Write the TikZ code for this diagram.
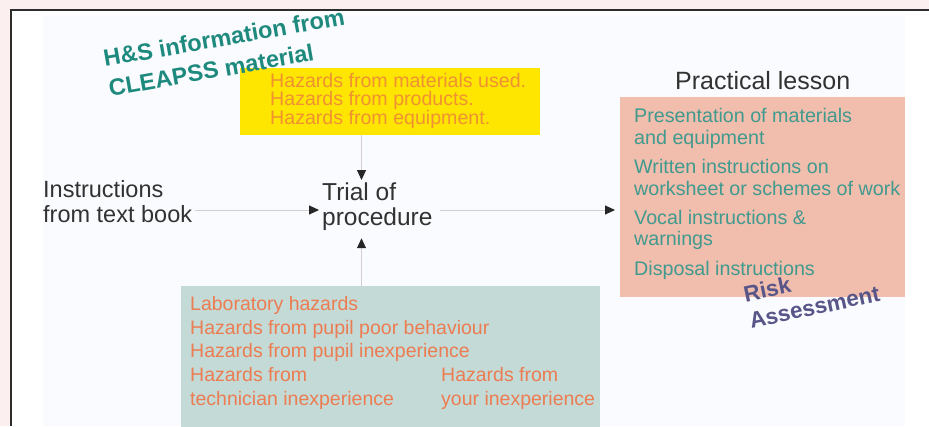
\documentclass[tikz,border=0pt]{standalone}
\usepackage{fontspec}
\setmainfont{Liberation Sans}
\usetikzlibrary{arrows.meta,positioning}
\definecolor{pagepink}{RGB}{252,239,239}
\definecolor{panel}{RGB}{250,251,254}
\definecolor{framegray}{RGB}{45,45,45}
\definecolor{cleapssyellow}{RGB}{255,230,0}
\definecolor{cleapsstext}{RGB}{240,145,50}
\definecolor{labteal}{RGB}{196,218,214}
\definecolor{labtext}{RGB}{236,124,82}
\definecolor{lessonpink}{RGB}{241,189,173}
\definecolor{lessontext}{RGB}{64,154,142}
\definecolor{hsteal}{RGB}{30,138,126}
\definecolor{riskpurple}{RGB}{88,86,136}
\definecolor{labelgray}{RGB}{50,50,50}
\definecolor{linkgray}{RGB}{212,206,206}
\tikzset{
  heading/.style = {text=labelgray, align=left, inner sep=3pt,
    font=\fontsize{23.5}{25}\selectfont},
  hazard box/.style = {anchor=north west, inner sep=0pt},
  list text/.style = {anchor=north west, align=left, inner sep=0pt},
  stamp/.style = {anchor=north west, align=left, inner sep=0pt,
    font=\bfseries\fontsize{23.5}{30}\selectfont},
  flow/.style = {linkgray, line width=1pt,
    -{Triangle[length=10pt,width=9pt,color=black!85]}}
}

\begin{document}
\begin{tikzpicture}[x=1pt,y=-1pt]
  \useasboundingbox (0,0) rectangle (929,426);
  \fill[pagepink] (0,0) rectangle (929,426);
  \fill[white] (10,9) rectangle (929,426);
  \fill[panel] (43,15) rectangle (905,426);
  \draw[framegray, line width=2pt] (10.5,426) -- (10.5,9.5) -- (929,9.5);

  % boxes
  \node[hazard box, fill=cleapssyellow, minimum width=300pt, minimum height=67pt] (cleapss) at (240,68) {};
  \node[hazard box, fill=labteal, minimum width=419pt, minimum height=145pt] (labhaz) at (181,286) {};
  \node[hazard box, fill=lessonpink, minimum width=285pt, minimum height=200pt] (lessonbox) at (620,97) {};

  % box texts
  \node[list text, text=cleapsstext, font=\fontsize{19.6}{18.5}\selectfont] (cleapsslist) at (270,73)
    {Hazards from materials used.\\Hazards from products.\\Hazards from equipment.};
  \node[list text, text=labtext, font=\fontsize{19.5}{23.7}\selectfont] (lablist) at (190,296)
    {Laboratory hazards\\Hazards from pupil poor behaviour\\Hazards from pupil inexperience\\Hazards from\\technician inexperience};
  \node[list text, text=labtext, font=\fontsize{19.5}{23.7}\selectfont] (yourlist) at (441,367.5)
    {Hazards from\\your inexperience};
  \node[list text, text=lessontext, font=\fontsize{19.7}{21.7}\selectfont] (lessonlist) at (634,108)
    {Presentation of materials\\and equipment\\[8pt]Written instructions on\\worksheet or schemes of work\\[7pt]Vocal instructions \&\\warnings\\[8pt]Disposal instructions};

  % plain labels
  \node[heading, anchor=north west] (book) at (40,177) {Instructions\\from text book};
  \node[heading, anchor=north west, font=\fontsize{24.5}{25}\selectfont] (trial) at (319,180) {Trial of\\procedure};
  \node[heading, font=\fontsize{25}{26}\selectfont, above=4.5pt of lessonbox] (lesson) {Practical lesson};

  % slanted notes
  \node[stamp, text=hsteal, rotate=10] (hsnote) at (102,50) {H\&S information from\\CLEAPSS material};
  \node[stamp, text=riskpurple, rotate=12, font=\bfseries\fontsize{22.5}{27}\selectfont] (risknote) at (742,286) {Risk\\Assessment};

  % connectors
  \coordinate (spine) at (361.5,0);
  \coordinate (midrow) at (0,210);
  \draw[flow] (spine |- cleapss.south) -- (spine |- trial.north);
  \draw[flow, shorten >=4pt] (spine |- labhaz.north) -- (spine |- trial.south);
  \draw[flow] (book.east |- midrow) -- (trial.west |- midrow);
  \draw[flow, shorten <=4pt, shorten >=5pt] (trial.east |- midrow) -- (lessonbox.west |- midrow);
\end{tikzpicture}
\end{document}
